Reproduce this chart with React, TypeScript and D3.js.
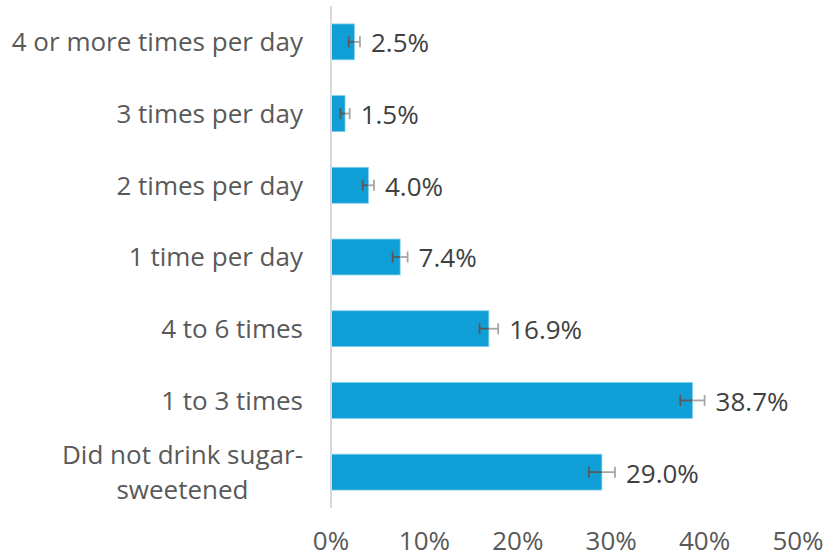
import * as d3 from 'd3';
import * as React from 'react';

const categories = [
  '4 or more times per day',
  '3 times per day',
  '2 times per day',
  '1 time per day',
  '4 to 6 times',
  '1 to 3 times',
  'Did not drink sugar-\nsweetened',
];
const values = [2.5, 1.5, 4.0, 7.4, 16.9, 38.7, 29.0];
const errors = [0.6, 0.5, 0.6, 0.8, 1.0, 1.3, 1.4];
const ticks = [0, 10, 20, 30, 40, 50];

const W = 825;
const H = 557;
const FONT = '"Open Sans", "Liberation Sans", sans-serif';
const FS = 26;
const LABEL_RIGHT = 303;

function CategoryLabel({ text, cy }: { text: string; cy: number }): JSX.Element {
  const lines = text.split('\n');
  const ref = React.useRef<SVGTextElement>(null);
  const [w, setW] = React.useState(0);
  React.useLayoutEffect(() => {
    if (ref.current && lines.length > 1) {
      const tspans = Array.from(ref.current.querySelectorAll('tspan')) as SVGTextContentElement[];
      setW(d3.max(tspans, (t) => t.getComputedTextLength()) || 0);
    }
  }, [text]);
  if (lines.length === 1) {
    return (
      <text x={LABEL_RIGHT} y={cy} dy="0.36em" fontFamily={FONT} fontSize={FS} fill="#595959" textAnchor="end">
        {text}
      </text>
    );
  }
  const lh = 35;
  const cx = LABEL_RIGHT - w / 2;
  return (
    <text ref={ref} fontFamily={FONT} fontSize={FS} fill="#595959" textAnchor="middle">
      {lines.map((l, k) => (
        <tspan key={k} x={cx} y={cy - ((lines.length - 1) * lh) / 2 + k * lh} dy="0.36em">
          {l}
        </tspan>
      ))}
    </text>
  );
}

export default function App(): JSX.Element {
  const x = d3.scaleLinear().domain([0, 50]).range([331, 798]);
  const y = d3.scaleBand<string>().domain(categories).range([6, 508]).paddingInner(0.5).paddingOuter(0.25);
  const bw = y.bandwidth();

  return (
    <div style={{ position: 'fixed', left: 0, top: 0 }}>
      <svg width={W} height={H} style={{ display: 'block', background: '#fff' }}>
        {categories.map((c, i) => {
          const y0 = y(c) as number;
          const cy = y0 + bw / 2;
          const v = values[i];
          const lo = v - errors[i];
          const hi = v + errors[i];
          return (
            <g key={c}>
              <rect x={x(0)} y={y0} width={x(v) - x(0)} height={bw} fill="#0f9ed5" stroke="#7fcdea" strokeWidth={0.8} />
              <line x1={x(lo)} x2={x(v)} y1={cy} y2={cy} stroke="#595959" strokeWidth={1.8} />
              <line x1={x(v)} x2={x(hi)} y1={cy} y2={cy} stroke="#a6a6a6" strokeWidth={1.8} />
              <line x1={x(lo)} x2={x(lo)} y1={cy - 5.5} y2={cy + 5.5} stroke="#595959" strokeWidth={1.8} />
              <line x1={x(hi)} x2={x(hi)} y1={cy - 5.5} y2={cy + 5.5} stroke="#a6a6a6" strokeWidth={1.8} />
              <text x={x(hi) + 11} y={cy + 1} dy="0.36em" fontFamily={FONT} fontSize={FS} fill="#404040">
                {v.toFixed(1)}%
              </text>
              <CategoryLabel text={c} cy={cy} />
            </g>
          );
        })}
        <line x1={x(0)} x2={x(0)} y1={6} y2={508} stroke="#d9d9d9" strokeWidth={2} />
        {ticks.map((t) => (
          <text key={t} x={x(t)} y={541} dy="0.36em" fontFamily={FONT} fontSize={FS} fill="#595959" textAnchor="middle">
            {t}%
          </text>
        ))}
      </svg>
    </div>
  );
}
